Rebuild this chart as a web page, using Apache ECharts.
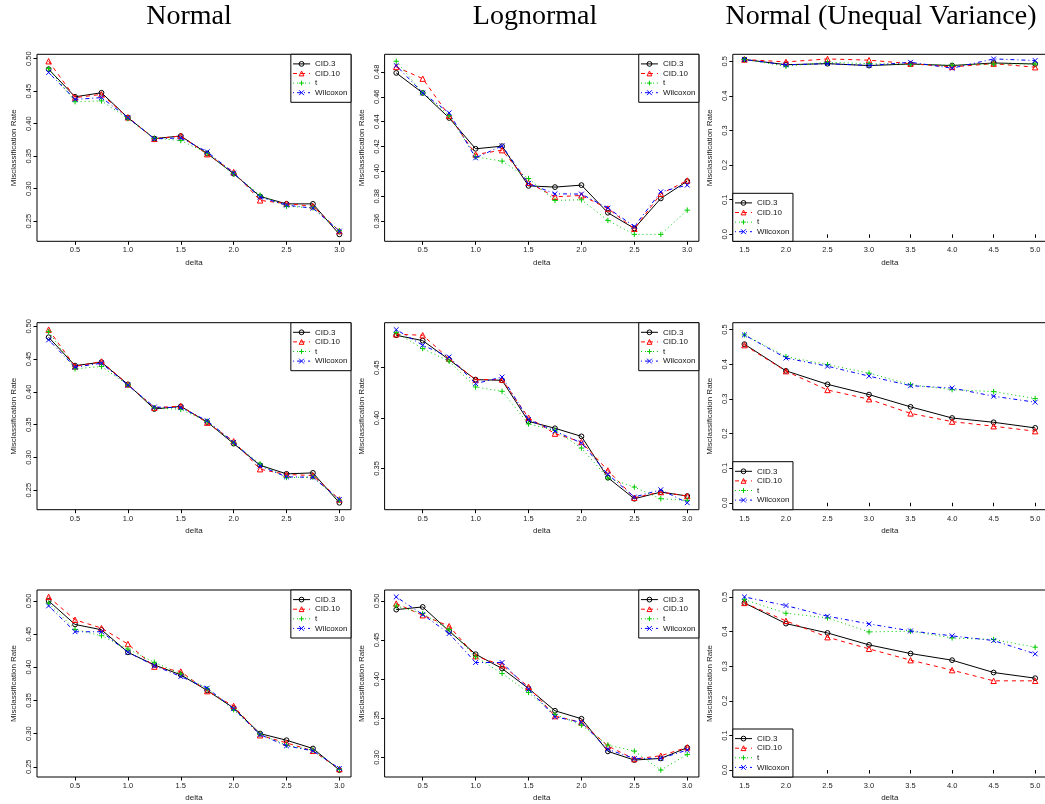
<!DOCTYPE html>
<html><head><meta charset="utf-8">
<script src="https://cdn.jsdelivr.net/npm/echarts@6/dist/echarts.min.js"></script>
<style>html,body{margin:0;padding:0;background:#fff}#c{width:1045px;height:804px}</style>
</head><body><div id="c"></div><script>
// ---------------- data ----------------
const deltaLow = [0.25,0.5,0.75,1.0,1.25,1.5,1.75,2.0,2.25,2.5,2.75,3.0];
const deltaHigh = [1.5,2.0,2.5,3.0,3.5,4.0,4.5,5.0];
const methodNames = ['CID.3','CID.10','t','Wilcoxon'];
const columnTitles = ['Normal','Lognormal','Normal (Unequal Variance)'];
const xAxisTitle = 'delta';
const yAxisTitle = 'Misclassification Rate';

// row 1
const r1Normal_CID3 = [0.4837,0.4413,0.4475,0.4092,0.377,0.381,0.354,0.323,0.288,0.2766,0.2766,0.2297];
const r1Normal_CID10 = [0.496,0.440,0.445,0.4097,0.3766,0.381,0.353,0.3256,0.282,0.277,0.273,0.2348];
const r1Normal_t = [0.4847,0.4337,0.435,0.4077,0.3776,0.374,0.3546,0.323,0.2899,0.273,0.2705,0.2353];
const r1Normal_Wilcoxon = [0.4786,0.4373,0.440,0.4092,0.3766,0.378,0.3567,0.324,0.2868,0.2746,0.270,0.2348];

const r1Lognormal_CID3 = [0.4792,0.4631,0.443,0.4182,0.4203,0.3884,0.3874,0.389,0.3668,0.3542,0.3783,0.3922];
const r1Lognormal_CID10 = [0.484,0.4746,0.4447,0.4136,0.4171,0.3909,0.3796,0.3807,0.3702,0.3539,0.382,0.3927];
const r1Lognormal_t = [0.4886,0.4631,0.445,0.4117,0.4083,0.3943,0.3767,0.3772,0.3606,0.3494,0.3494,0.3689];
const r1Lognormal_Wilcoxon = [0.4851,0.4631,0.4471,0.4109,0.4206,0.3903,0.382,0.3818,0.3705,0.3558,0.3836,0.389];

const r1Unequal_CID3 = [0.505,0.490,0.493,0.4875,0.492,0.4875,0.495,0.492];
const r1Unequal_CID10 = [0.505,0.498,0.5067,0.503,0.493,0.4836,0.493,0.4827];
const r1Unequal_t = [0.505,0.4856,0.497,0.493,0.491,0.4884,0.492,0.492];
const r1Unequal_Wilcoxon = [0.505,0.4894,0.493,0.4875,0.497,0.4798,0.5067,0.502];

// row 2
const r2Normal_CID3 = [0.4833,0.440,0.4452,0.4113,0.3738,0.3778,0.354,0.321,0.288,0.2749,0.2764,0.2308];
const r2Normal_CID10 = [0.4949,0.4387,0.4463,0.4113,0.3758,0.3783,0.353,0.3246,0.282,0.2739,0.2724,0.2359];
const r2Normal_t = [0.4919,0.4351,0.4387,0.4103,0.3758,0.3732,0.355,0.322,0.290,0.2693,0.2698,0.2348];
const r2Normal_Wilcoxon = [0.4792,0.4376,0.4437,0.4103,0.3768,0.3758,0.356,0.323,0.287,0.2703,0.2698,0.2359];

const r2Lognormal_CID3 = [0.4821,0.4768,0.4579,0.4381,0.4374,0.3967,0.3898,0.3818,0.3408,0.3199,0.3265,0.3226];
const r2Lognormal_CID10 = [0.4831,0.4821,0.4589,0.4381,0.4381,0.4003,0.3845,0.3762,0.348,0.3209,0.3265,0.3226];
const r2Lognormal_t = [0.4848,0.4689,0.4563,0.4308,0.4265,0.3941,0.3878,0.3702,0.3404,0.3315,0.3199,0.3183];
const r2Lognormal_Wilcoxon = [0.4877,0.4722,0.4606,0.4341,0.4407,0.3984,0.3871,0.3752,0.3441,0.3216,0.3288,0.3159];

const r2Unequal_CID3 = [0.458,0.381,0.342,0.3124,0.277,0.2448,0.2324,0.2162];
const r2Unequal_CID10 = [0.4552,0.380,0.3257,0.299,0.2581,0.2343,0.221,0.2067];
const r2Unequal_t = [0.4848,0.422,0.399,0.3743,0.341,0.3267,0.321,0.301];
const r2Unequal_Wilcoxon = [0.4848,0.418,0.3943,0.3657,0.338,0.3314,0.3076,0.2905];

// row 3
const r3Normal_CID3 = [0.500,0.4645,0.4565,0.4225,0.4035,0.3885,0.365,0.3385,0.300,0.290,0.2775,0.245];
const r3Normal_CID10 = [0.506,0.4715,0.459,0.435,0.401,0.3935,0.364,0.3415,0.2975,0.286,0.274,0.2465];
const r3Normal_t = [0.4965,0.457,0.4475,0.4275,0.4075,0.390,0.3675,0.336,0.299,0.2825,0.275,0.246];
const r3Normal_Wilcoxon = [0.4925,0.4535,0.4535,0.4225,0.4025,0.386,0.3685,0.3375,0.2985,0.2815,0.274,0.2475];

const r3Lognormal_CID3 = [0.4889,0.4923,0.4613,0.4319,0.4136,0.3881,0.3596,0.3494,0.3077,0.2966,0.2987,0.3124];
const r3Lognormal_CID10 = [0.4966,0.4817,0.4677,0.4294,0.4179,0.3902,0.3528,0.3447,0.3145,0.2979,0.3021,0.3128];
const r3Lognormal_t = [0.4936,0.4838,0.4634,0.4285,0.4072,0.383,0.3549,0.3413,0.3158,0.3081,0.2838,0.3038];
const r3Lognormal_Wilcoxon = [0.5051,0.4826,0.4583,0.4213,0.4213,0.3872,0.3519,0.3447,0.3102,0.2987,0.2987,0.3094];

const r3Unequal_CID3 = [0.4827,0.423,0.396,0.3615,0.3365,0.3173,0.2817,0.2654];
const r3Unequal_CID10 = [0.4827,0.4308,0.3837,0.35,0.3173,0.2885,0.2577,0.2577];
const r3Unequal_t = [0.4923,0.4529,0.4394,0.399,0.401,0.3817,0.3769,0.3548];
const r3Unequal_Wilcoxon = [0.50,0.475,0.4442,0.4221,0.4019,0.3875,0.374,0.3356];

// tick labels
const xTicksLow = [0.5,1.0,1.5,2.0,2.5,3.0];
const xTicksHigh = [1.5,2.0,2.5,3.0,3.5,4.0,4.5,5.0];
const yTicksR1Normal = [0.25,0.30,0.35,0.40,0.45,0.50];
const yTicksR1Lognormal = [0.36,0.38,0.40,0.42,0.44,0.46,0.48];
const yTicksR2Normal = [0.25,0.30,0.35,0.40,0.45,0.50];
const yTicksR2Lognormal = [0.35,0.40,0.45];
const yTicksR3Normal = [0.25,0.30,0.35,0.40,0.45,0.50];
const yTicksR3Lognormal = [0.30,0.35,0.40,0.45,0.50];
const yTicksUnequal = [0.0,0.1,0.2,0.3,0.4,0.5];
const yLimUnequal = [0.0,0.5];

// ---------------- layout / style ----------------
const colLeft = [37, 384.6, 732.8];
const colWidth = [314, 314.3, 314];
const rowTop = [54.3, 322.7, 590];
const rowHeight = 187;
const titleX = [189, 535, 881];
const FONT = 'Liberation Sans';
const methodStyles = [
  {color:'#000000', dash:'solid', symbol:'circle', size:4.8},
  {color:'#FF0000', dash:[4,4], symbol:'triangle', size:5.4},
  {color:'#00CD00', dash:[1,3], symbol:'path://M5,0L5,10M0,5L10,5', size:5.4},
  {color:'#0000FF', dash:[1,3,4,3], symbol:'path://M0,0L10,10M10,0L0,10', size:4.8}
];

const panels = [
  {row:0,col:0,x:deltaLow,ys:[r1Normal_CID3,r1Normal_CID10,r1Normal_t,r1Normal_Wilcoxon],xt:xTicksLow,yt:yTicksR1Normal,dec:2},
  {row:0,col:1,x:deltaLow,ys:[r1Lognormal_CID3,r1Lognormal_CID10,r1Lognormal_t,r1Lognormal_Wilcoxon],xt:xTicksLow,yt:yTicksR1Lognormal,dec:2},
  {row:0,col:2,x:deltaHigh,ys:[r1Unequal_CID3,r1Unequal_CID10,r1Unequal_t,r1Unequal_Wilcoxon],xt:xTicksHigh,yt:yTicksUnequal,dec:1,ylim:yLimUnequal},
  {row:1,col:0,x:deltaLow,ys:[r2Normal_CID3,r2Normal_CID10,r2Normal_t,r2Normal_Wilcoxon],xt:xTicksLow,yt:yTicksR2Normal,dec:2},
  {row:1,col:1,x:deltaLow,ys:[r2Lognormal_CID3,r2Lognormal_CID10,r2Lognormal_t,r2Lognormal_Wilcoxon],xt:xTicksLow,yt:yTicksR2Lognormal,dec:2},
  {row:1,col:2,x:deltaHigh,ys:[r2Unequal_CID3,r2Unequal_CID10,r2Unequal_t,r2Unequal_Wilcoxon],xt:xTicksHigh,yt:yTicksUnequal,dec:1,ylim:yLimUnequal},
  {row:2,col:0,x:deltaLow,ys:[r3Normal_CID3,r3Normal_CID10,r3Normal_t,r3Normal_Wilcoxon],xt:xTicksLow,yt:yTicksR3Normal,dec:2},
  {row:2,col:1,x:deltaLow,ys:[r3Lognormal_CID3,r3Lognormal_CID10,r3Lognormal_t,r3Lognormal_Wilcoxon],xt:xTicksLow,yt:yTicksR3Lognormal,dec:2},
  {row:2,col:2,x:deltaHigh,ys:[r3Unequal_CID3,r3Unequal_CID10,r3Unequal_t,r3Unequal_Wilcoxon],xt:xTicksHigh,yt:yTicksUnequal,dec:1,ylim:yLimUnequal}
];

function padRange(lo, hi){ const d=(hi-lo)*0.04; return [lo-d, hi+d]; }

const grids=[], xAxes=[], yAxes=[], series=[], legends=[];
panels.forEach((p,i)=>{
  const left=colLeft[p.col], top=rowTop[p.row], w=colWidth[p.col], h=rowHeight;
  grids.push({left:left, top:top, width:w, height:h, show:true, borderColor:'#000', borderWidth:1,
    backgroundColor:'transparent', containLabel:false, outerBoundsMode:'none'});
  const xr = padRange(Math.min(...p.x), Math.max(...p.x));
  let yr;
  if (p.ylim) yr = padRange(p.ylim[0], p.ylim[1]);
  else { const all=[].concat(...p.ys); yr = padRange(Math.min(...all), Math.max(...all)); }
  const txt = {fontFamily:FONT, color:'#222'};
  xAxes.push({type:'value', gridIndex:i, min:xr[0], max:xr[1], scale:true,
    axisLine:{show:false}, splitLine:{show:false},
    axisTick:{show:true, length:3.5, customValues:p.xt, lineStyle:{color:'#000', width:1}},
    axisLabel:{show:true, customValues:p.xt, formatter:v=>Number(v).toFixed(1), fontSize:7.5, margin:5, ...txt},
    name:xAxisTitle, nameLocation:'middle', nameGap:17, nameMoveOverlap:false,
    nameTextStyle:{fontSize:8, ...txt}});
  yAxes.push({type:'value', gridIndex:i, min:yr[0], max:yr[1], scale:true,
    axisLine:{show:false}, splitLine:{show:false},
    axisTick:{show:true, length:3.5, customValues:p.yt, lineStyle:{color:'#000', width:1}},
    axisLabel:{show:true, customValues:p.yt, rotate:90, formatter:v=>Number(v).toFixed(p.dec), fontSize:7.5, margin:4, ...txt},
    name:yAxisTitle, nameLocation:'middle', nameGap:19, nameMoveOverlap:false,
    nameTextStyle:{fontSize:8, ...txt}});
  p.ys.forEach((ys,k)=>{
    const st=methodStyles[k];
    series.push({type:'line', name:methodNames[k], xAxisIndex:i, yAxisIndex:i,
      data:p.x.map((xv,j)=>[xv, ys[j]]),
      symbol:st.symbol, symbolSize:st.size, showAllSymbol:true, silent:true,
      lineStyle:{color:st.color, width:1, type:st.dash},
      itemStyle:{color:'rgba(0,0,0,0)', borderColor:st.color, borderWidth:1},
      emphasis:{disabled:true}, z:2+k});
  });
  const legendData = methodNames.map((n,k)=>({name:n,
    itemStyle:{color:'rgba(0,0,0,0)', borderColor:methodStyles[k].color, borderWidth:1},
    lineStyle:{color:methodStyles[k].color, width:1, type:methodStyles[k].dash}}));
  const lg = {data:legendData, orient:'vertical', selectedMode:false, itemWidth:17, itemHeight:6, itemGap:0,
    padding:[4.8,3.5,4.8,1.7], borderColor:'#000', borderWidth:1, backgroundColor:'#fff', z:10,
    textStyle:{fontFamily:FONT, fontSize:8, color:'#111', lineHeight:9.6}};
  if (p.col<2) { lg.right = 1045-(left+w); lg.top = top; }
  else { lg.left = left; lg.bottom = 804-(top+h); }
  legends.push(lg);
});

const graphics = columnTitles.map((t,i)=>({type:'text', x:titleX[i], y:17,
  style:{text:t, fontFamily:'Liberation Serif', fontSize:28, fill:'#000', align:'center', verticalAlign:'middle'}}));

const chart = echarts.init(document.getElementById('c'), null, {renderer:'canvas'});
chart.setOption({animation:false, backgroundColor:'#fff', grid:grids, xAxis:xAxes, yAxis:yAxes,
  series:series, legend:legends, graphic:graphics, tooltip:{show:false}});
</script></body></html>
